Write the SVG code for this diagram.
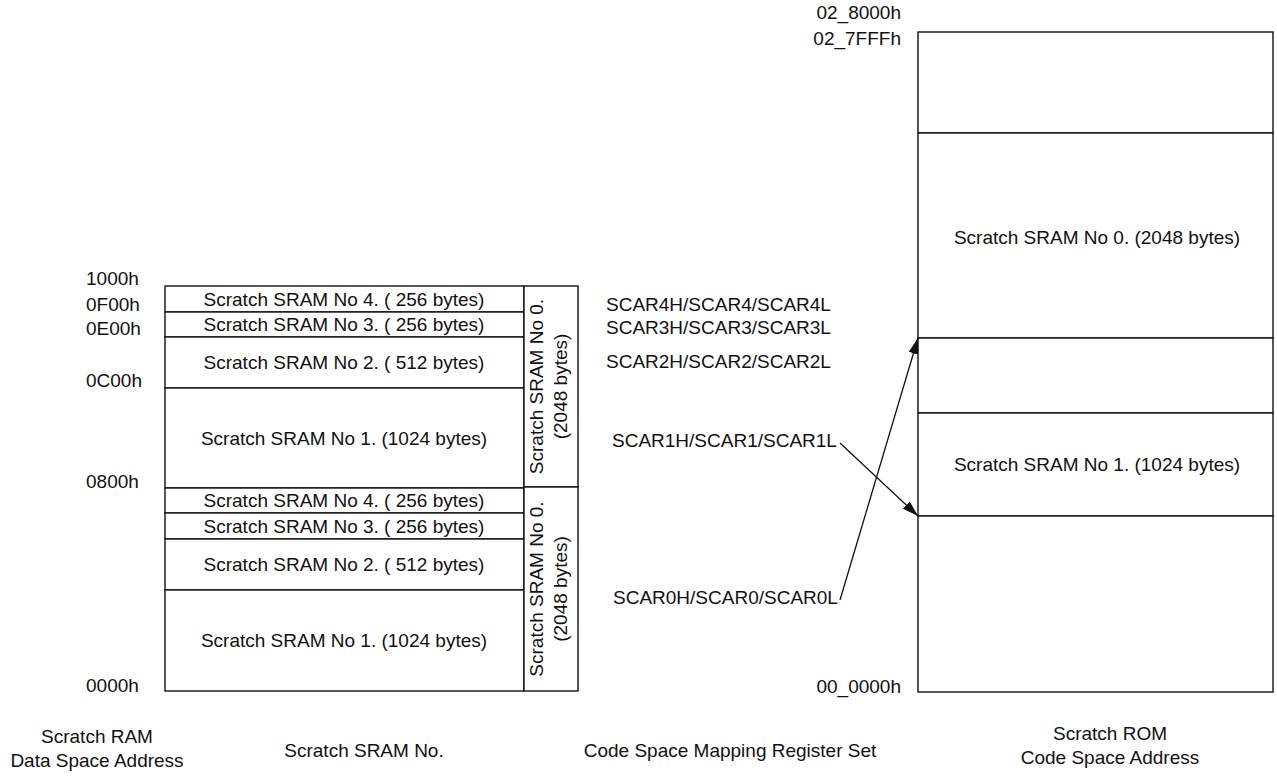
<svg xmlns="http://www.w3.org/2000/svg" width="1277" height="776" viewBox="0 0 1277 776">
<defs>
<style>
text{font-family:"Liberation Sans",Arial,sans-serif;font-size:19px;fill:#111}
.m{text-anchor:middle}
.e{text-anchor:end}
.box{fill:#fff;stroke:#111;stroke-width:1.4}
.ln{stroke:#111;stroke-width:1.3;fill:none}
</style>
<marker id="ah" markerWidth="16" markerHeight="10" refX="16" refY="5" orient="auto" markerUnits="userSpaceOnUse">
<path d="M0,0 L16,5 L0,10 Z" fill="#111"/>
</marker>
</defs>
<rect width="1277" height="776" fill="#fff"/>

<g id="addr-left">
<text x="86" y="285">1000h</text>
<text x="86" y="311">0F00h</text>
<text x="86" y="335">0E00h</text>
<text x="86" y="387">0C00h</text>
<text x="86" y="488">0800h</text>
<text x="86" y="692">0000h</text>
</g>

<g id="sram-upper">
<rect class="box" x="165" y="286" width="359" height="26"/>
<text class="m" x="344" y="306">Scratch SRAM No 4. ( 256 bytes)</text>
<rect class="box" x="165" y="312" width="359" height="25"/>
<text class="m" x="344" y="331">Scratch SRAM No 3. ( 256 bytes)</text>
<rect class="box" x="165" y="337" width="359" height="51"/>
<text class="m" x="344" y="369">Scratch SRAM No 2. ( 512 bytes)</text>
<rect class="box" x="165" y="388" width="359" height="100"/>
<text class="m" x="344" y="445">Scratch SRAM No 1. (1024 bytes)</text>
</g>

<g id="sram-lower">
<rect class="box" x="165" y="488" width="359" height="25"/>
<text class="m" x="344" y="507">Scratch SRAM No 4. ( 256 bytes)</text>
<rect class="box" x="165" y="513" width="359" height="26"/>
<text class="m" x="344" y="533">Scratch SRAM No 3. ( 256 bytes)</text>
<rect class="box" x="165" y="539" width="359" height="51"/>
<text class="m" x="344" y="571">Scratch SRAM No 2. ( 512 bytes)</text>
<rect class="box" x="165" y="590" width="359" height="101"/>
<text class="m" x="344" y="647">Scratch SRAM No 1. (1024 bytes)</text>
</g>

<g id="sram0-upper">
<rect class="box" x="524" y="286" width="54" height="201"/>
<text class="m" transform="translate(543,386.5) rotate(-90)">Scratch SRAM No 0.</text>
<text class="m" transform="translate(567,386.5) rotate(-90)">(2048 bytes)</text>
</g>

<g id="sram0-lower">
<rect class="box" x="524" y="487" width="54" height="204"/>
<text class="m" transform="translate(543,589) rotate(-90)">Scratch SRAM No 0.</text>
<text class="m" transform="translate(567,589) rotate(-90)">(2048 bytes)</text>
</g>

<g id="registers">
<text x="606" y="311">SCAR4H/SCAR4/SCAR4L</text>
<text x="606" y="334">SCAR3H/SCAR3/SCAR3L</text>
<text x="606" y="368">SCAR2H/SCAR2/SCAR2L</text>
<text x="612" y="447">SCAR1H/SCAR1/SCAR1L</text>
<text x="613" y="604">SCAR0H/SCAR0/SCAR0L</text>
</g>

<g id="rom">
<rect class="box" x="918" y="32" width="355" height="101"/>
<rect class="box" x="918" y="133" width="355" height="205"/>
<text class="m" x="1097" y="244">Scratch SRAM No 0. (2048 bytes)</text>
<rect class="box" x="918" y="338" width="355" height="75"/>
<rect class="box" x="918" y="413" width="355" height="103"/>
<text class="m" x="1097" y="471">Scratch SRAM No 1. (1024 bytes)</text>
<rect class="box" x="918" y="516" width="355" height="176"/>
</g>

<g id="addr-right">
<text class="e" x="901" y="19">02_8000h</text>
<text class="e" x="901" y="45">02_7FFFh</text>
<text class="e" x="901" y="693">00_0000h</text>
</g>

<g id="connectors">
<line class="ln" x1="840" y1="443" x2="918" y2="516" marker-end="url(#ah)"/>
<line class="ln" x1="840" y1="600" x2="918" y2="338" marker-end="url(#ah)"/>
</g>

<g id="captions">
<text class="m" x="97" y="743">Scratch RAM</text>
<text class="m" x="97" y="767">Data Space Address</text>
<text class="m" x="364" y="757">Scratch SRAM No.</text>
<text class="m" x="730" y="757">Code Space Mapping Register Set</text>
<text class="m" x="1110" y="740">Scratch ROM</text>
<text class="m" x="1110" y="764">Code Space Address</text>
</g>
</svg>
